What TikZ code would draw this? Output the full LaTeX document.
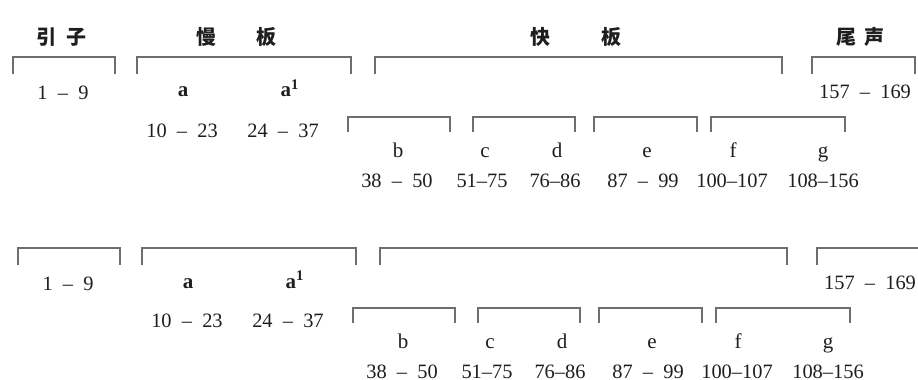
\documentclass[tikz,border=0pt]{standalone}
\usepackage{fontspec}
\setmainfont{Liberation Serif}
\newfontfamily\cjk{Noto Sans CJK SC}
\usepackage{tikz}
\usetikzlibrary{positioning}
\definecolor{bracketgray}{HTML}{6E6E6E}
\definecolor{inkgray}{HTML}{1E1E1E}

\tikzset{
  bracket/.style={draw=bracketgray, line width=1pt},
  heading/.style={font=\cjk\bfseries\fontsize{10}{12}\selectfont, color=inkgray, inner sep=1pt},
  num/.style={font=\fontsize{10.2}{12}\selectfont, color=inkgray, inner sep=0pt, anchor=base},
  part/.style={font=\fontsize{10.5}{12}\selectfont, color=inkgray, inner sep=0pt, anchor=base}
}

\begin{document}
\begin{tikzpicture}[x=0.5pt, y=-0.5pt]
  \useasboundingbox (0,0) rectangle (918,380);

  % ===== Section titles (top copy only) =====
  \node[heading] (intro)  at (62,37)  {引\hspace{5pt}子};
  \node[heading] (slow)   at (237,37) {慢\hspace{20pt}板};
  \node[heading] (fast)   at (576,37) {快\hspace{26pt}板};
  \node[heading] (coda)   at (860,37) {尾\hspace{4pt}声};

  % ===== Two copies of the form chart =====
  \foreach \row/\dx/\dy in {t/0/0, b/5/191} {
    \begin{scope}[shift={(\dx,\dy)}]
      % main brackets
      \foreach \xa/\xb in {13/115, 137/351, 375/782, 812/915}
        \draw[bracket] (\xa,74) |- (\xb,57) -- (\xb,74);
      % sub brackets
      \foreach \xa/\xb in {348/450, 473/575, 594/697, 711/845}
        \draw[bracket] (\xa,132) |- (\xb,117) -- (\xb,132);

      % bar ranges (placed on their baselines)
      \foreach \name/\x/\y/\txt in {intro/63/99/{1\enspace--\enspace9},
          ra/182/137/{10\enspace--\enspace23}, rat/283/137/{24\enspace--\enspace37},
          coda/865/98/{157\enspace--\enspace169},
          rb/397/187/{38\enspace--\enspace50}, rc/482/187/{51--75}, rd/555/187/{76--86},
          re/643/187/{87\enspace--\enspace99}, rf/732/187/{100--107}, rg/823/187/{108--156}}
        \node[num] (\row-\name) at (\x,\y) {\txt};

      % section letters
      \node[part, font=\bfseries\fontsize{10.5}{12}\selectfont] (\row-a) at (183,97) {a};
      \node[part, font=\bfseries\fontsize{10.5}{12}\selectfont] (\row-at) at (290,97) {a\textsuperscript{1}};
      \foreach \name/\x in {b/398, c/485, d/557, e/647, f/733, g/823}
        \node[part] (\row-\name) at (\x,157) {\name};
    \end{scope}
  }
\end{tikzpicture}
\end{document}
